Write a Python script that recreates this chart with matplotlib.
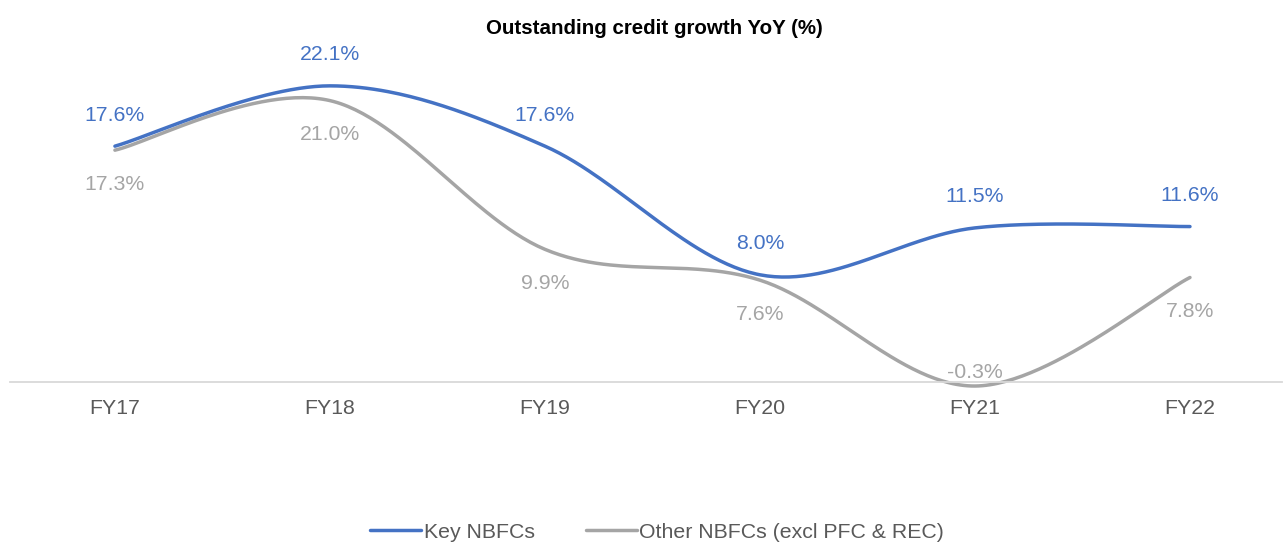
import numpy as np
import matplotlib
matplotlib.use("Agg")
import matplotlib.pyplot as plt

plt.rcParams['font.family'] = ['Liberation Sans', 'DejaVu Sans']

categories = ["FY17", "FY18", "FY19", "FY20", "FY21", "FY22"]
key_nbfcs = [17.6, 22.1, 17.6, 8.0, 11.5, 11.6]
other_nbfcs = [17.3, 21.0, 9.9, 7.6, -0.3, 7.8]
labels_key = ["17.6%", "22.1%", "17.6%", "8.0%", "11.5%", "11.6%"]
labels_other = ["17.3%", "21.0%", "9.9%", "7.6%", "-0.3%", "7.8%"]

BLUE = "#4472C4"
GRAY = "#A5A5A5"


def smooth(xs, ys, n=60):
    x = np.asarray(xs, float)
    y = np.asarray(ys, float)
    px = np.concatenate([[x[0]], x, [x[-1]]])
    py = np.concatenate([[y[0]], y, [y[-1]]])
    outx, outy = [], []
    t = np.linspace(0, 1, n)
    for i in range(len(x) - 1):
        p0 = np.array([px[i + 1], py[i + 1]])
        p3 = np.array([px[i + 2], py[i + 2]])
        c1 = p0 + (np.array([px[i + 2], py[i + 2]]) - np.array([px[i], py[i]])) / 6
        c2 = p3 - (np.array([px[i + 3], py[i + 3]]) - np.array([px[i + 1], py[i + 1]])) / 6
        b = ((1 - t) ** 3)[:, None] * p0 + (3 * (1 - t) ** 2 * t)[:, None] * c1 \
            + (3 * (1 - t) * t ** 2)[:, None] * c2 + (t ** 3)[:, None] * p3
        outx.extend(b[:, 0])
        outy.extend(b[:, 1])
    return np.array(outx), np.array(outy)


W, H = 1284, 543
fig = plt.figure(figsize=(W / 100, H / 100), dpi=100)
left, right = 10, 1282
top, bottom = 47, 449
ax = fig.add_axes([left / W, (H - bottom) / H, (right - left) / W, (bottom - top) / H])

xs = np.arange(len(categories))
sx, sy = smooth(xs, key_nbfcs)
ax.plot(sx, sy, color=BLUE, lw=2.5, solid_capstyle='round', label="Key NBFCs", zorder=3)
sx2, sy2 = smooth(xs, other_nbfcs)
ax.plot(sx2, sy2, color=GRAY, lw=2.5, solid_capstyle='round', label="Other NBFCs (excl PFC & REC)", zorder=2)

FS = 15.3
for i, (v, lab) in enumerate(zip(key_nbfcs, labels_key)):
    ax.annotate(lab, (xs[i], v), xytext=(0, 31), textcoords='offset pixels',
                ha='center', va='center', color=BLUE, fontsize=FS)
other_offsets = [-34, -34, -34, -34, 14, -34]
for i, (v, lab) in enumerate(zip(other_nbfcs, labels_other)):
    ax.annotate(lab, (xs[i], v), xytext=(0, other_offsets[i]), textcoords='offset pixels',
                ha='center', va='center', color=GRAY, fontsize=FS)

ax.set_xlim(-0.488, 5.428)
ax.set_ylim(-5, 25)
for s in ['top', 'right', 'left']:
    ax.spines[s].set_visible(False)
ax.spines['bottom'].set_position(('data', 0))
ax.spines['bottom'].set_color('#D9D9D9')
ax.spines['bottom'].set_linewidth(1.3)
ax.set_yticks([])
ax.set_xticks(xs)
ax.set_xticklabels(categories)
ax.tick_params(axis='x', length=0, pad=12, labelsize=FS, labelcolor='#595959')

fig.text(654 / W, 1 - 28 / H, "Outstanding credit growth YoY (%)", ha='center', va='center',
         fontsize=14.8, fontweight='bold', color='black')

leg = fig.legend(loc='center', bbox_to_anchor=(657 / W, 1 - 532 / H), ncol=2, frameon=False,
                 fontsize=FS, handlelength=2.4, columnspacing=2.4, handletextpad=0.1)
for t in leg.get_texts():
    t.set_color('#595959')

fig.savefig("out.png", dpi=100)
